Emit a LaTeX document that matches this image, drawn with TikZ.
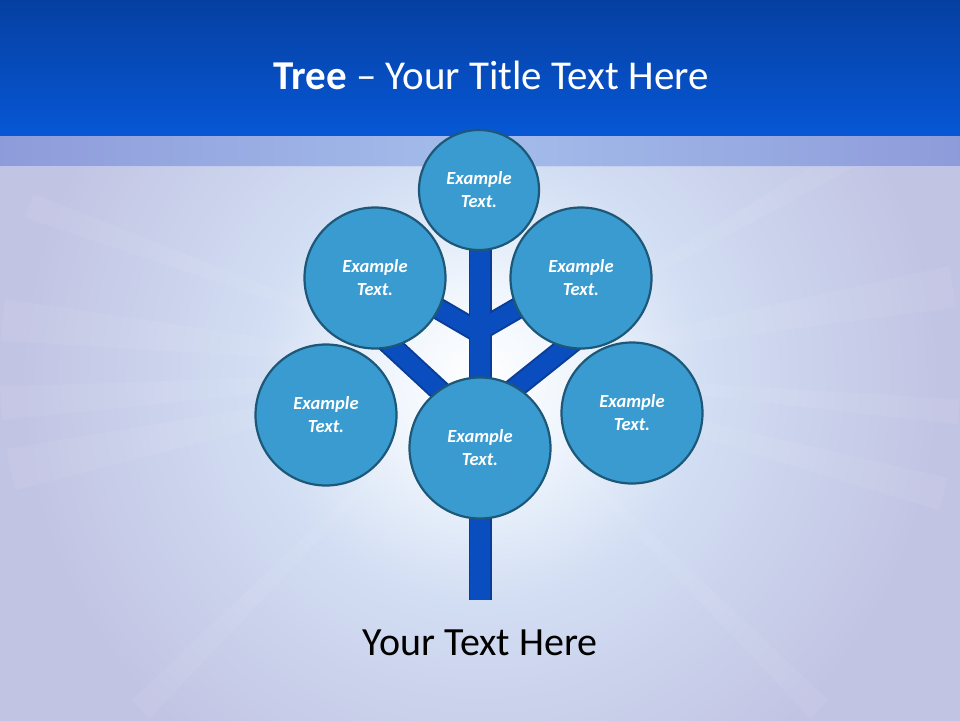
\documentclass[tikz,border=0pt]{standalone}
\usepackage{fontspec}
\setmainfont{Carlito}
\usetikzlibrary{fadings}
\definecolor{bandtop}{HTML}{053F9F}
\definecolor{bandbot}{HTML}{0757D6}
\definecolor{stripL}{HTML}{8E9BDA}
\definecolor{stripC}{HTML}{A4BDEB}
\definecolor{bgouter}{HTML}{C2C4E3}
\definecolor{bgmid}{HTML}{D2DEF3}
\definecolor{bginner}{HTML}{F0F6FD}
\definecolor{circfill}{HTML}{3A9BD0}
\definecolor{circline}{HTML}{1D5878}
\definecolor{branchfill}{HTML}{0A4DBE}
\definecolor{branchline}{HTML}{0A3D98}
\pgfdeclareradialshading{glow}{\pgfpoint{0bp}{0bp}}{%
  color(0bp)=(white); color(5bp)=(bginner); color(12bp)=(bgmid); color(25bp)=(bgouter); color(50bp)=(bgouter)}
\tikzset{
  bubble/.style={circle, fill=circfill, draw=circline, line width=2.2pt,
    text=white, font=\fontsize{18.5}{23}\selectfont\bfseries\itshape,
    align=center, inner sep=0pt},
  branch/.style={line width=22pt, color=branchline},
  branchin/.style={line width=18pt, color=branchfill},
}
\begin{document}
\begin{tikzpicture}[x=1pt,y=-1pt]
\useasboundingbox (0,0) rectangle (960,720);
% background
\fill[bgouter] (-5,136) rectangle (965,730);
\begin{scope}
\clip (-5,136) rectangle (965,730);
\shade[shading=glow] (480,380) circle (460);
% faint rays
\foreach \a/\w in {168/2.5, 176/2, 186/2.5, 200/1.5, 15/2, 5/1.5, 350/2.5, 330/1.5, 135/1.5, 45/1.5}{
  \fill[white, opacity=0.06] (480,370) -- ++(\a-\w:480) arc[start angle=\a-\w, end angle=\a+\w, radius=480] -- cycle;
}
\end{scope}
% title band
\shade[top color=bandtop, bottom color=bandbot] (-5,-5) rectangle (965,136);
\shade[left color=stripL, right color=stripC] (-5,136) rectangle (480,166);
\shade[left color=stripC, right color=stripL] (480,136) rectangle (965,166);
\draw[white, opacity=0.4, line width=1pt] (0,166.5) -- (960,166.5);
% tree coordinates
\coordinate (trunktop) at (480,250);
\coordinate (trunkbot) at (480,600);
\coordinate (j1) at (480,333);
\coordinate (e1) at (420,298);
\coordinate (j2) at (480,330);
\coordinate (e2) at (530,301);
\coordinate (j3) at (480,428);
\coordinate (e3) at (385,340);
\coordinate (j4) at (480,416);
\coordinate (e4) at (580,336);
% branches
\foreach \s/\t in {j1/e1, j2/e2, j3/e3, j4/e4}{
  \draw[branch] (\s) -- (\t);
}
\draw[branch, line width=23pt] (trunktop) -- (trunkbot);
\foreach \s/\t in {j1/e1, j2/e2, j3/e3, j4/e4}{
  \draw[branchin] (\s) -- (\t);
}
\draw[branchin, line width=20pt] (trunktop) -- (trunkbot);
% circles
\node[bubble, minimum size=120pt] (top) at (479,190) {Example\\Text.};
\node[bubble, minimum size=141pt] (ul) at (375,278) {Example\\Text.};
\node[bubble, minimum size=141pt] (ur) at (581,278) {Example\\Text.};
\node[bubble, minimum size=141pt] (ll) at (326,415) {Example\\Text.};
\node[bubble, minimum size=141pt] (lr) at (632,413) {Example\\Text.};
\node[bubble, minimum size=141pt] (mid) at (480,448) {Example\\Text.};
% texts
\node[text=white, font=\fontsize{41}{48}\selectfont] (title) at (491,75)
  {\textbf{Tree} – Your Title Text Here};
\node[text=black, font=\fontsize{40}{48}\selectfont] (caption) at (480,643) {Your Text Here};
\end{tikzpicture}
\end{document}
